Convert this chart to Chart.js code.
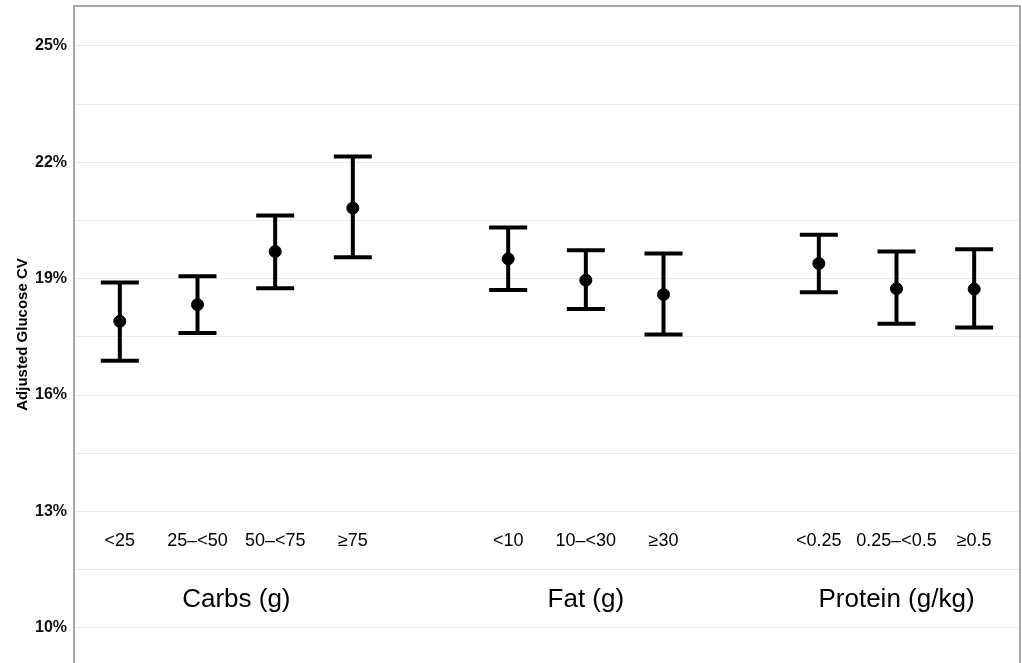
<!DOCTYPE html>
<html>
<head>
<meta charset="utf-8">
<script src="https://cdn.jsdelivr.net/npm/chart.js@4/dist/chart.umd.min.js"></script>
<style>
  html, body { margin: 0; padding: 0; background: #fff; }
  #wrap { width: 1022px; height: 663px; }
</style>
</head>
<body>
<div id="wrap"><canvas id="cv" width="1022" height="663"></canvas></div>
<script>
// categories and which group they belong to
const categories = ['<25', '25–<50', '50–<75', '≥75', '<10', '10–<30', '≥30', '<0.25', '0.25–<0.5', '≥0.5'];
const groupOf    = [0, 0, 0, 0, 1, 1, 1, 2, 2, 2];
const groups     = ['Carbs (g)', 'Fat (g)', 'Protein (g/kg)'];

// adjusted glucose CV (%), point estimate and 95% CI
const estimate = [17.90, 18.33, 19.70, 20.82, 19.51, 18.96, 18.59, 19.39, 18.74, 18.73];
const lower    = [16.88, 17.60, 18.75, 19.55, 18.71, 18.22, 17.56, 18.65, 17.84, 17.74];
const upper    = [18.90, 19.06, 20.63, 22.15, 20.32, 19.73, 19.65, 20.13, 19.70, 19.76];

// y ticks: labelled every 3%, minor gridlines in between
const yTicks   = [10, 11.5, 13, 14.5, 16, 17.5, 19, 20.5, 22, 23.5, 25];
const yLabeled = [10, 13, 16, 19, 22, 25];

const FONT = '"Liberation Sans", Arial, Helvetica, sans-serif';

// one empty slot between groups
const xPos = categories.map((c, i) => i + groupOf[i]);
const groupCenter = groups.map((g, gi) => {
    const xs = xPos.filter((x, i) => groupOf[i] === gi);
    return (Math.min(...xs) + Math.max(...xs)) / 2;
});

const errorBars = {
    id: 'errorBars',
    beforeDatasetsDraw(chart) {
        const { ctx, scales: { x, y } } = chart;
        ctx.save();
        ctx.strokeStyle = '#000';
        ctx.lineWidth = 4;
        ctx.lineCap = 'butt';
        xPos.forEach((xv, i) => {
            const px = x.getPixelForValue(xv);
            const top = y.getPixelForValue(upper[i]);
            const bot = y.getPixelForValue(lower[i]);
            ctx.beginPath();
            ctx.moveTo(px, top); ctx.lineTo(px, bot);
            ctx.moveTo(px - 19, top); ctx.lineTo(px + 19, top);
            ctx.moveTo(px - 19, bot); ctx.lineTo(px + 19, bot);
            ctx.stroke();
        });
        ctx.restore();
    }
};

const labelsInside = {
    id: 'labelsInside',
    afterDatasetsDraw(chart) {
        const { ctx, scales: { x, y }, chartArea: a } = chart;
        ctx.save();
        ctx.fillStyle = '#000';
        ctx.textAlign = 'center';
        ctx.textBaseline = 'middle';
        ctx.font = '18px ' + FONT;
        categories.forEach((c, i) => ctx.fillText(c, x.getPixelForValue(xPos[i]), y.getPixelForValue(12.23)));
        ctx.font = '26px ' + FONT;
        groups.forEach((g, gi) => ctx.fillText(g, x.getPixelForValue(groupCenter[gi]), y.getPixelForValue(10.71)));
        // panel frame
        ctx.strokeStyle = '#8c8c8c';
        ctx.lineWidth = 1.5;
        ctx.beginPath();
        ctx.moveTo(a.left, a.bottom + 2);
        ctx.lineTo(a.left, a.top);
        ctx.lineTo(a.right, a.top);
        ctx.lineTo(a.right, a.bottom + 2);
        ctx.stroke();
        ctx.restore();
    }
};

new Chart(document.getElementById('cv'), {
    type: 'scatter',
    data: {
        datasets: [{
            data: xPos.map((xv, i) => ({ x: xv, y: estimate[i] })),
            backgroundColor: '#000',
            borderColor: '#000',
            pointRadius: 6,
            pointHoverRadius: 6
        }]
    },
    options: {
        responsive: false,
        animation: false,
        events: [],
        layout: { autoPadding: false, padding: { top: 6, right: 2, bottom: 0, left: 0 } },
        plugins: { legend: { display: false }, tooltip: { enabled: false } },
        scales: {
            x: { type: 'linear', min: -0.59, max: 11.59, display: false },
            y: {
                min: 9.09, max: 26.03,
                afterBuildTicks: s => { s.ticks = yTicks.map(v => ({ value: v })); },
                afterFit: s => { s.width = 74; s.paddingTop = 0; s.paddingBottom = 0; },
                grid: { color: '#ebebeb', lineWidth: 1, drawTicks: false },
                border: { display: false },
                ticks: {
                    padding: 7,
                    color: '#111',
                    font: { family: FONT, size: 16, weight: 'bold' },
                    callback: v => yLabeled.includes(v) ? v + '%' : ''
                },
                title: {
                    display: true,
                    text: 'Adjusted Glucose CV',
                    color: '#000',
                    font: { family: FONT, size: 15, weight: 'bold' },
                    padding: { top: 14, bottom: 0 }
                }
            }
        }
    },
    plugins: [errorBars, labelsInside]
});
</script>
</body>
</html>
